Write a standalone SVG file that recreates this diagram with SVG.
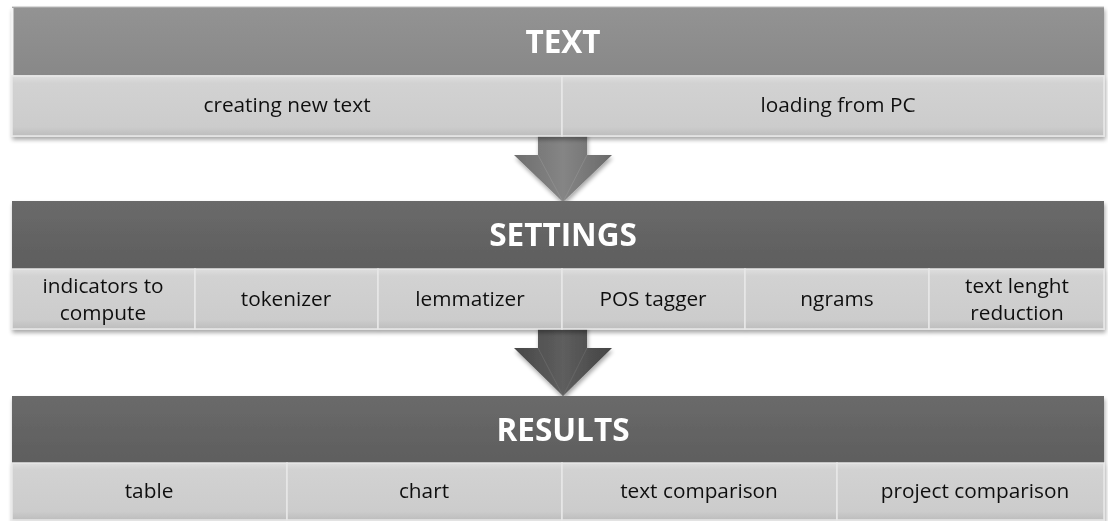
<svg xmlns="http://www.w3.org/2000/svg" width="1108" height="521" viewBox="0 0 1108 521">
<defs>
  <linearGradient id="hdr1" x1="0" y1="0" x2="0" y2="1">
    <stop offset="0" stop-color="#939393"/><stop offset="1" stop-color="#888888"/>
  </linearGradient>
  <linearGradient id="hdr2" x1="0" y1="0" x2="0" y2="1">
    <stop offset="0" stop-color="#6a6a6a"/><stop offset="1" stop-color="#5e5e5e"/>
  </linearGradient>
  <linearGradient id="cell" x1="0" y1="0" x2="0" y2="1">
    <stop offset="0" stop-color="#dedede"/><stop offset="0.12" stop-color="#d2d2d2"/><stop offset="0.85" stop-color="#cccccc"/><stop offset="1" stop-color="#bdbdbd"/>
  </linearGradient>
  <linearGradient id="arr1" x1="0" y1="0" x2="1" y2="0">
    <stop offset="0" stop-color="#6e6e6e"/><stop offset="0.5" stop-color="#858585"/><stop offset="1" stop-color="#6a6a6a"/>
  </linearGradient>
  <linearGradient id="arr2" x1="0" y1="0" x2="1" y2="0">
    <stop offset="0" stop-color="#484848"/><stop offset="0.5" stop-color="#5e5e5e"/><stop offset="1" stop-color="#444444"/>
  </linearGradient>
  <filter id="sh" x="-5%" y="-20%" width="110%" height="150%">
    <feGaussianBlur in="SourceAlpha" stdDeviation="2"/>
    <feOffset dx="1" dy="3"/>
    <feComponentTransfer><feFuncA type="linear" slope="0.35"/></feComponentTransfer>
    <feMerge><feMergeNode/><feMergeNode in="SourceGraphic"/></feMerge>
  </filter>
</defs>
<style>
  .title{font-family:"Open Sans","Liberation Sans",sans-serif;font-weight:bold;font-size:31.5px;fill:#ffffff;text-anchor:middle}
  .lbl{font-family:"Open Sans","Liberation Sans",sans-serif;font-size:20.8px;fill:#111111;text-anchor:middle}
  .cell{fill:url(#cell);stroke:#e8e8e8;stroke-width:1.5}
</style>
<rect width="1108" height="521" fill="#ffffff"/>

<g id="connectors">
  <g id="arrow1" filter="url(#sh)">
    <path d="M538,118 H587 V155 H612 L563,202 L514,155 H538 Z" fill="url(#arr1)"/>
    <path d="M538,155 L563,202 L587,155" fill="none" stroke="#999" stroke-width="0.8" opacity="0.6"/>
  </g>
  <g id="arrow2" filter="url(#sh)">
    <path d="M538,318 H587 V348 H612 L563,396 L514,348 H538 Z" fill="url(#arr2)"/>
    <path d="M538,348 L563,396 L587,348" fill="none" stroke="#777" stroke-width="0.8" opacity="0.6"/>
  </g>
</g>

<g id="text-block" filter="url(#sh)">
  <rect id="text-header" x="12" y="7" width="1092" height="68" fill="url(#hdr1)"/>
  <path d="M12,7 H1104" stroke="#bdbdbd" stroke-width="1"/>
  <path d="M12.5,8 V75" stroke="#f4f4f4" stroke-width="2"/>
  <text class="title" x="563" y="53">TEXT</text>
  <g id="creating-new-text">
    <rect class="cell" x="12" y="76" width="550" height="60"/>
    <text class="lbl" x="287" y="112">creating new text</text>
  </g>
  <g id="loading-from-pc">
    <rect class="cell" x="562" y="76" width="542" height="60"/>
    <text class="lbl" x="838" y="112">loading from PC</text>
  </g>
</g>

<g id="settings-block" filter="url(#sh)">
  <rect id="settings-header" x="12" y="201" width="1092" height="68" fill="url(#hdr2)"/>
  <text class="title" x="563" y="246">SETTINGS</text>
  <g id="indicators-to-compute">
    <rect class="cell" x="12" y="269" width="183" height="60"/>
    <text class="lbl" x="103" y="293">indicators to</text>
    <text class="lbl" x="103" y="320">compute</text>
  </g>
  <g id="tokenizer">
    <rect class="cell" x="195" y="269" width="183" height="60"/>
    <text class="lbl" x="286" y="306">tokenizer</text>
  </g>
  <g id="lemmatizer">
    <rect class="cell" x="378" y="269" width="184" height="60"/>
    <text class="lbl" x="470" y="306">lemmatizer</text>
  </g>
  <g id="pos-tagger">
    <rect class="cell" x="562" y="269" width="183" height="60"/>
    <text class="lbl" x="653" y="306">POS tagger</text>
  </g>
  <g id="ngrams">
    <rect class="cell" x="745" y="269" width="184" height="60"/>
    <text class="lbl" x="837" y="306">ngrams</text>
  </g>
  <g id="text-lenght-reduction">
    <rect class="cell" x="929" y="269" width="175" height="60"/>
    <text class="lbl" x="1017" y="293">text lenght</text>
    <text class="lbl" x="1017" y="320">reduction</text>
  </g>
</g>

<g id="results-block" filter="url(#sh)">
  <rect id="results-header" x="12" y="396" width="1092" height="67" fill="url(#hdr2)"/>
  <text class="title" x="563" y="441">RESULTS</text>
  <g id="table">
    <rect class="cell" x="12" y="463" width="275" height="57"/>
    <text class="lbl" x="149" y="498">table</text>
  </g>
  <g id="chart">
    <rect class="cell" x="287" y="463" width="275" height="57"/>
    <text class="lbl" x="424" y="498">chart</text>
  </g>
  <g id="text-comparison">
    <rect class="cell" x="562" y="463" width="275" height="57"/>
    <text class="lbl" x="699" y="498">text comparison</text>
  </g>
  <g id="project-comparison">
    <rect class="cell" x="837" y="463" width="267" height="57"/>
    <text class="lbl" x="975" y="498">project comparison</text>
  </g>
</g>
</svg>
